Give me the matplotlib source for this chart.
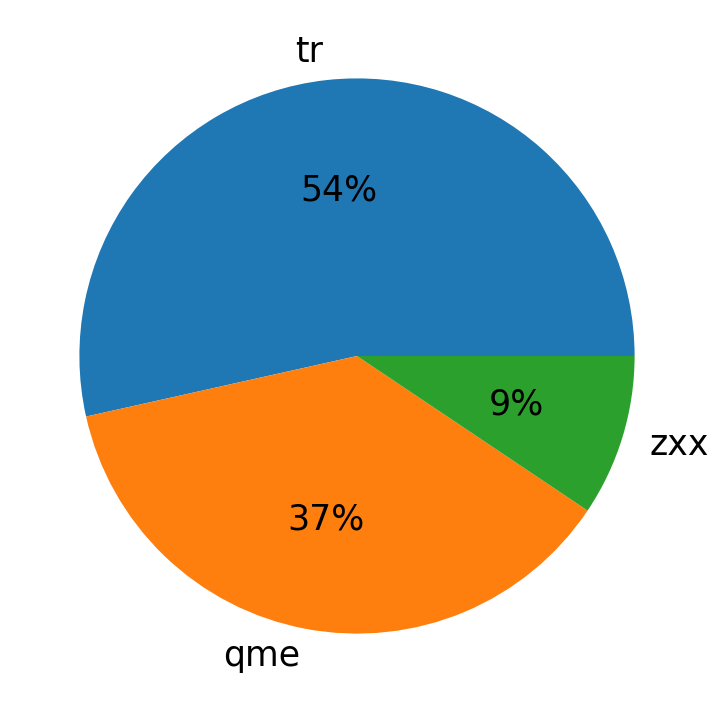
import matplotlib
matplotlib.use('Agg')
import matplotlib.pyplot as plt

# Slice data
labels = ['tr', 'qme', 'zxx']
values = [53.5, 37.1, 9.4]

fig = plt.figure(figsize=(7.17, 7.13), dpi=100)
ax = fig.add_axes([10 / 717, 10 / 713, 694 / 717, 694 / 713])
ax.pie(values, labels=labels, autopct='%1.0f%%', textprops={'fontsize': 25})
ax.set_aspect('equal')

plt.savefig('out.png', dpi=100)
